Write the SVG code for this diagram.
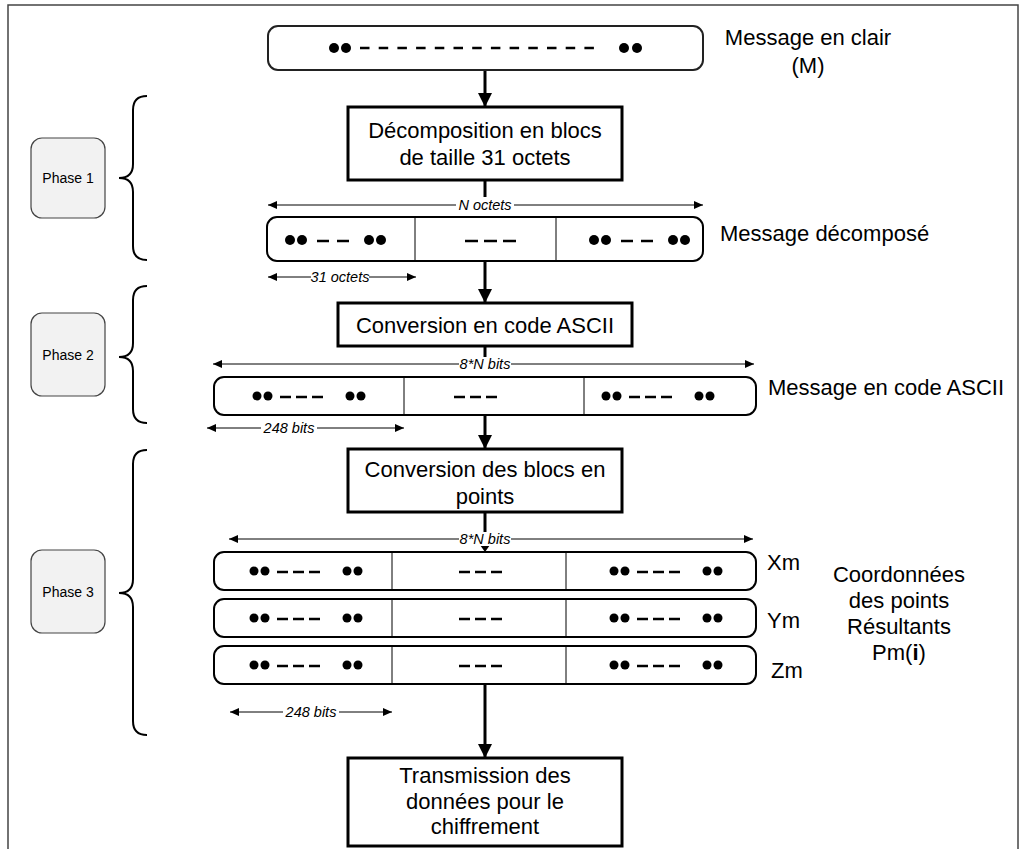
<svg xmlns="http://www.w3.org/2000/svg" width="1024" height="849" viewBox="0 0 1024 849">
<style>
text{font-family:"Liberation Sans",Arial,sans-serif;fill:#000}
.big{font-size:22px}
.mid{font-size:22px;text-anchor:middle}
.dim{font-size:14.5px;font-style:italic;text-anchor:middle}
.ph{font-size:14px;text-anchor:middle}
.box{fill:#fff;stroke:#000;stroke-width:3}
.row{fill:#fff;stroke:#000;stroke-width:2}
.div{stroke:#000;stroke-width:1}
.phase{fill:#f2f2f2;stroke:#444;stroke-width:1.2}
.brace{fill:none;stroke:#000;stroke-width:2}
.flow{stroke:#000;stroke-width:3;fill:none}
.dl{stroke:#000;stroke-width:1;fill:none}
.dash{stroke:#000;stroke-width:2.5}
</style>
<defs>
<marker id="ah" markerUnits="userSpaceOnUse" markerWidth="16" markerHeight="16" refX="14" refY="7" orient="auto">
<path d="M0,0 L14,7 L0,14 Z" fill="#000"/>
</marker>
<marker id="sa" markerUnits="userSpaceOnUse" markerWidth="10" markerHeight="10" refX="9" refY="4" orient="auto-start-reverse">
<path d="M0,0 L9,4 L0,8 Z" fill="#000"/>
</marker>
<g id="seg2">
<circle cx="0" cy="0" r="5"/><circle cx="12" cy="0" r="5"/>
<line class="dash" x1="27" y1="1" x2="39" y2="1"/><line class="dash" x1="47" y1="1" x2="59" y2="1"/>
<circle cx="79" cy="0" r="5"/><circle cx="91" cy="0" r="5"/>
</g>
<g id="seg3">
<circle cx="0" cy="0" r="4.5"/><circle cx="11" cy="0" r="4.5"/>
<line class="dash" x1="23" y1="1" x2="34" y2="1"/><line class="dash" x1="39" y1="1" x2="50" y2="1"/><line class="dash" x1="55" y1="1" x2="66" y2="1"/>
<circle cx="93" cy="0" r="4.5"/><circle cx="104" cy="0" r="4.5"/>
</g>
<g id="mid3">
<line class="dash" x1="0" y1="1" x2="11" y2="1"/><line class="dash" x1="16" y1="1" x2="27" y2="1"/><line class="dash" x1="32" y1="1" x2="43" y2="1"/>
</g>
</defs>

<rect x="8" y="5" width="1010" height="870" fill="none" stroke="#444" stroke-width="1.5"/>

<g id="phase1">
<rect class="phase" x="31" y="138" width="74" height="80" rx="11"/>
<text class="ph" x="68" y="183">Phase 1</text>
<path class="brace" d="M147,96 Q133,96 133,110 L133,164 Q133,178 119,178 Q133,178 133,192 L133,246 Q133,260 147,260"/>
</g>
<g id="phase2">
<rect class="phase" x="31" y="313" width="74" height="83" rx="11"/>
<text class="ph" x="68" y="360">Phase 2</text>
<path class="brace" d="M147,286 Q133,286 133,300 L133,343 Q133,357 119,357 Q133,357 133,371 L133,409 Q133,423 147,423"/>
</g>
<g id="phase3">
<rect class="phase" x="31" y="550" width="74" height="83" rx="11"/>
<text class="ph" x="68" y="597">Phase 3</text>
<path class="brace" d="M147,450 Q133,450 133,464 L133,579 Q133,593 119,593 Q133,593 133,607 L133,721 Q133,735 147,735"/>
</g>

<g id="connectors">
<line class="flow" x1="485" y1="70" x2="485" y2="107" marker-end="url(#ah)"/>
<line class="flow" x1="485" y1="180" x2="485" y2="197"/>
<line class="flow" x1="485" y1="261" x2="485" y2="303" marker-end="url(#ah)"/>
<line class="flow" x1="485" y1="346" x2="485" y2="357"/>
<line class="flow" x1="485" y1="415" x2="485" y2="449" marker-end="url(#ah)"/>
<line class="flow" x1="485" y1="512" x2="485" y2="532"/>
<path d="M480,545 L490,545 L485,552 Z" fill="#000"/>
<line class="flow" x1="485" y1="684" x2="485" y2="758" marker-end="url(#ah)"/>

<line class="dl" x1="268" y1="205" x2="703" y2="205" marker-start="url(#sa)" marker-end="url(#sa)"/>
<rect x="456" y="198" width="58" height="14" fill="#fff"/>
<text class="dim" x="485" y="210">N octets</text>

<line class="dl" x1="268" y1="277" x2="416" y2="277" marker-start="url(#sa)" marker-end="url(#sa)"/>
<rect x="311" y="270" width="58" height="14" fill="#fff"/>
<text class="dim" x="340" y="282">31 octets</text>

<line class="dl" x1="213" y1="364" x2="754" y2="364" marker-start="url(#sa)" marker-end="url(#sa)"/>
<rect x="459" y="357" width="52" height="14" fill="#fff"/>
<text class="dim" x="485" y="369">8*N bits</text>

<line class="dl" x1="207" y1="428" x2="404" y2="428" marker-start="url(#sa)" marker-end="url(#sa)"/>
<rect x="261" y="421" width="56" height="14" fill="#fff"/>
<text class="dim" x="289" y="433">248 bits</text>

<line class="dl" x1="229" y1="539" x2="753" y2="539" marker-start="url(#sa)" marker-end="url(#sa)"/>
<rect x="459" y="532" width="52" height="14" fill="#fff"/>
<text class="dim" x="485" y="544">8*N bits</text>

<line class="dl" x1="230" y1="712" x2="392" y2="712" marker-start="url(#sa)" marker-end="url(#sa)"/>
<rect x="283" y="705" width="56" height="14" fill="#fff"/>
<text class="dim" x="311" y="717">248 bits</text>
</g>

<g id="msg">
<rect x="268" y="26" width="435" height="44" rx="10" fill="#fff" stroke="#222" stroke-width="2"/>
<circle cx="334" cy="48" r="5"/><circle cx="346" cy="48" r="5"/>
<line class="dash" x1="360" y1="48" x2="603" y2="48" stroke-dasharray="9.5 9.2"/>
<circle cx="624" cy="48" r="5"/><circle cx="637" cy="48" r="5"/>
<text class="mid" x="808" y="45">Message en clair</text>
<text class="mid" x="808" y="73">(M)</text>
</g>

<g id="decomp">
<rect class="box" x="348" y="107" width="274" height="73"/>
<text class="mid" x="485" y="138">Décomposition en blocs</text>
<text class="mid" x="485" y="165">de taille 31 octets</text>
</g>

<g id="msgdec">
<rect class="row" x="267" y="217" width="436" height="44" rx="10"/>
<line class="div" x1="415" y1="217" x2="415" y2="261"/>
<line class="div" x1="556" y1="217" x2="556" y2="261"/>
<use href="#seg2" x="290" y="240"/>
<use href="#seg2" x="594" y="240"/>
<line class="dash" x1="465" y1="241" x2="478" y2="241"/><line class="dash" x1="484" y1="241" x2="497" y2="241"/><line class="dash" x1="503" y1="241" x2="516" y2="241"/>
<text class="big" x="720" y="241">Message décomposé</text>
</g>

<g id="ascii">
<rect class="box" x="338" y="303" width="294" height="43"/>
<text class="mid" x="485" y="333">Conversion en code ASCII</text>
</g>

<g id="msgascii">
<rect class="row" x="214" y="377" width="542" height="38" rx="10"/>
<line class="div" x1="404" y1="377" x2="404" y2="415"/>
<line class="div" x1="584" y1="377" x2="584" y2="415"/>
<use href="#seg3" x="257" y="396"/>
<use href="#mid3" x="454" y="396"/>
<use href="#seg3" x="606" y="396"/>
<text class="big" x="768" y="395">Message en code ASCII</text>
</g>

<g id="convpts">
<rect class="box" x="348" y="449" width="274" height="63"/>
<text class="mid" x="485" y="477">Conversion des blocs en</text>
<text class="mid" x="485" y="504">points</text>
</g>

<g id="xm">
<rect class="row" x="214" y="552" width="542" height="38" rx="10"/>
<line class="div" x1="392" y1="552" x2="392" y2="590"/>
<line class="div" x1="566" y1="552" x2="566" y2="590"/>
<use href="#seg3" x="254" y="571"/>
<use href="#mid3" x="459" y="571"/>
<use href="#seg3" x="614" y="571"/>
<text class="big" x="767" y="570">Xm</text>
</g>
<g id="ym">
<rect class="row" x="214" y="599" width="542" height="38" rx="10"/>
<line class="div" x1="392" y1="599" x2="392" y2="637"/>
<line class="div" x1="566" y1="599" x2="566" y2="637"/>
<use href="#seg3" x="254" y="618"/>
<use href="#mid3" x="459" y="618"/>
<use href="#seg3" x="614" y="618"/>
<text class="big" x="767" y="628">Ym</text>
</g>
<g id="zm">
<rect class="row" x="214" y="646" width="542" height="38" rx="10"/>
<line class="div" x1="392" y1="646" x2="392" y2="684"/>
<line class="div" x1="566" y1="646" x2="566" y2="684"/>
<use href="#seg3" x="254" y="665"/>
<use href="#mid3" x="459" y="665"/>
<use href="#seg3" x="614" y="665"/>
<text class="big" x="771" y="678">Zm</text>
</g>

<g id="coords">
<text class="mid" x="899" y="582">Coordonnées</text>
<text class="mid" x="899" y="608">des points</text>
<text class="mid" x="899" y="634">Résultants</text>
<text class="mid" x="899" y="660">Pm(<tspan font-weight="bold">i</tspan>)</text>
</g>

<g id="transmission">
<rect class="box" x="348" y="758" width="274" height="88"/>
<text class="mid" x="485" y="783">Transmission des</text>
<text class="mid" x="485" y="809">données pour le</text>
<text class="mid" x="485" y="834">chiffrement</text>
</g>
</svg>
